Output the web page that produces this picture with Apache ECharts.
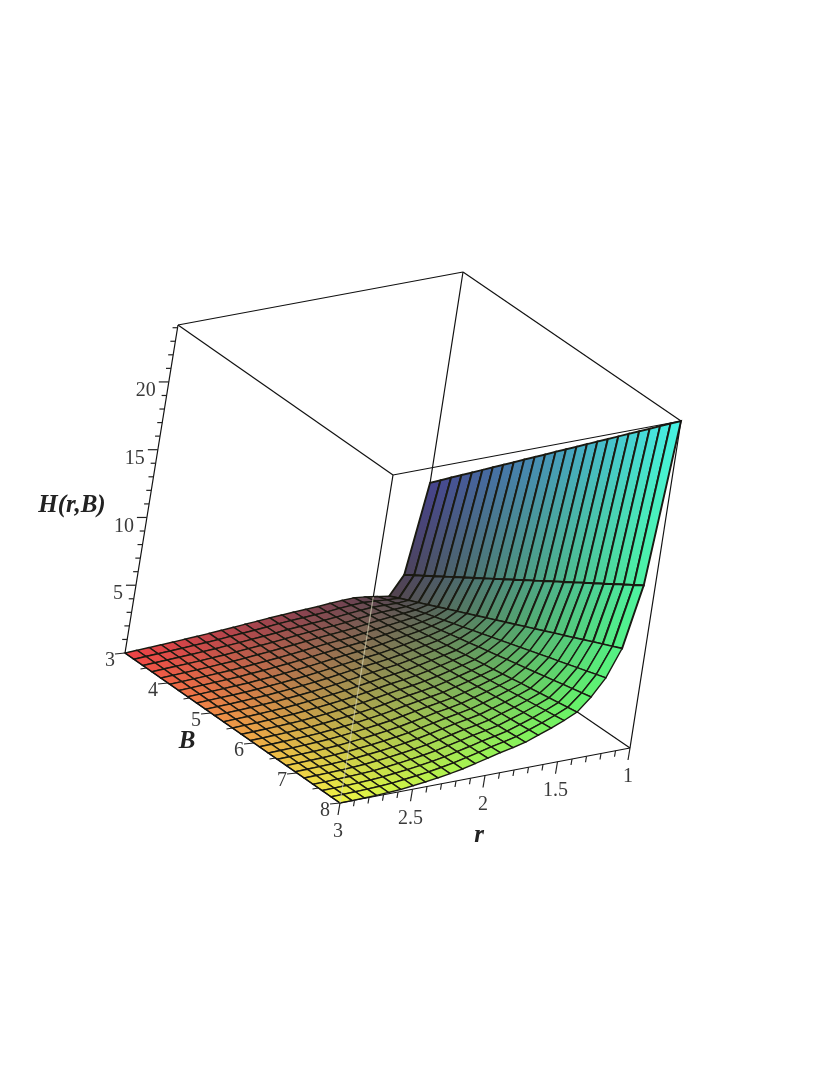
<!DOCTYPE html>
<html>
<head>
<meta charset="utf-8">
<style>
html, body { margin: 0; padding: 0; background: #fff; }
#main { width: 830px; height: 1075px; }
</style>
<script src="https://cdn.jsdelivr.net/npm/echarts@6/dist/echarts.min.js"></script>
</head>
<body>
<div id="main"></div>
<script>
var rValues = [1,1.083,1.167,1.25,1.333,1.417,1.5,1.583,1.667,1.75,1.833,1.917,2,2.083,2.167,2.25,2.333,2.417,2.5,2.583,2.667,2.75,2.833,2.917,3];
var bValues = [3,3.208,3.417,3.625,3.833,4.042,4.25,4.458,4.667,4.875,5.083,5.292,5.5,5.708,5.917,6.125,6.333,6.542,6.75,6.958,7.167,7.375,7.583,7.792,8];

// H, one row per r value, columns follow bValues
var hRows = [
    [8.6,9.25,9.9,10.55,11.2,11.85,12.5,13.15,13.8,14.45,15.1,15.75,16.4,17.05,17.7,18.35,19,19.65,20.3,20.95,21.6,22.25,22.9,23.55,24.2],
    [1.95,2.38,2.8,3.23,3.66,4.09,4.51,4.94,5.37,5.79,6.22,6.65,7.08,7.5,7.93,8.36,8.78,9.21,9.64,10.06,10.49,10.92,11.35,11.77,12.2],
    [.55,.85,1.15,1.44,1.74,2.04,2.34,2.64,2.93,3.23,3.53,3.83,4.13,4.42,4.72,5.02,5.32,5.62,5.91,6.21,6.51,6.81,7.11,7.4,7.7],
    [.68,.89,1.1,1.31,1.52,1.73,1.94,2.14,2.35,2.56,2.77,2.98,3.19,3.4,3.61,3.82,4.03,4.24,4.45,4.65,4.86,5.07,5.28,5.49,5.7],
    [.82,.97,1.12,1.27,1.43,1.58,1.73,1.88,2.03,2.18,2.33,2.48,2.64,2.79,2.94,3.09,3.24,3.39,3.54,3.69,3.84,4,4.15,4.3,4.45],
    [.92,1.03,1.14,1.24,1.35,1.46,1.57,1.67,1.78,1.89,2,2.1,2.21,2.32,2.43,2.53,2.64,2.75,2.86,2.96,3.07,3.18,3.29,3.39,3.5],
    [.9,.99,1.08,1.17,1.26,1.35,1.44,1.53,1.62,1.71,1.8,1.89,1.98,2.06,2.15,2.24,2.33,2.42,2.51,2.6,2.69,2.78,2.87,2.96,3.05],
    [.85,.93,1,1.08,1.15,1.23,1.3,1.38,1.45,1.53,1.6,1.68,1.75,1.83,1.9,1.98,2.05,2.13,2.2,2.28,2.35,2.43,2.5,2.58,2.65],
    [.78,.84,.91,.97,1.03,1.1,1.16,1.22,1.29,1.35,1.41,1.48,1.54,1.6,1.67,1.73,1.79,1.86,1.92,1.98,2.05,2.11,2.17,2.24,2.3],
    [.74,.79,.84,.89,.94,.99,1.04,1.09,1.14,1.19,1.24,1.29,1.35,1.4,1.45,1.5,1.55,1.6,1.65,1.7,1.75,1.8,1.85,1.9,1.95],
    [.7,.74,.79,.83,.87,.91,.96,1,1.04,1.08,1.13,1.17,1.21,1.25,1.3,1.34,1.38,1.42,1.47,1.51,1.55,1.59,1.64,1.68,1.72],
    [.65,.69,.72,.76,.8,.83,.87,.9,.94,.98,1.01,1.05,1.09,1.12,1.16,1.19,1.23,1.27,1.3,1.34,1.38,1.41,1.45,1.48,1.52],
    [.6,.63,.66,.69,.71,.74,.77,.8,.83,.86,.88,.91,.94,.97,1,1.03,1.05,1.08,1.11,1.14,1.17,1.2,1.22,1.25,1.28],
    [.53,.55,.57,.6,.62,.64,.66,.68,.7,.73,.75,.77,.79,.81,.83,.86,.88,.9,.92,.94,.96,.99,1.01,1.03,1.05],
    [.47,.48,.5,.51,.53,.54,.56,.57,.59,.6,.62,.63,.65,.66,.67,.69,.7,.72,.73,.75,.76,.78,.79,.81,.82],
    [.41,.42,.43,.44,.45,.46,.47,.48,.49,.5,.51,.52,.53,.54,.55,.56,.57,.58,.59,.6,.61,.62,.63,.64,.65],
    [.35,.36,.36,.37,.38,.38,.39,.39,.4,.41,.41,.42,.43,.43,.44,.44,.45,.46,.46,.47,.48,.48,.49,.49,.5],
    [.29,.29,.3,.3,.3,.31,.31,.31,.32,.32,.32,.33,.33,.33,.34,.34,.34,.35,.35,.35,.36,.36,.36,.37,.37],
    [.24,.24,.24,.24,.24,.24,.25,.25,.25,.25,.25,.25,.25,.25,.25,.25,.25,.25,.26,.26,.26,.26,.26,.26,.26],
    [.19,.19,.19,.19,.19,.18,.18,.18,.18,.18,.18,.18,.18,.17,.17,.17,.17,.17,.17,.17,.17,.16,.16,.16,.16],
    [.15,.15,.15,.14,.14,.14,.14,.14,.13,.13,.13,.13,.13,.12,.12,.12,.12,.11,.11,.11,.11,.11,.1,.1,.1],
    [.11,.11,.11,.1,.1,.1,.1,.1,.09,.09,.09,.09,.09,.08,.08,.08,.08,.07,.07,.07,.07,.07,.06,.06,.06],
    [.07,.07,.07,.07,.06,.06,.06,.06,.06,.05,.05,.05,.05,.05,.05,.05,.04,.04,.04,.04,.04,.04,.03,.03,.03],
    [.04,.04,.04,.04,.03,.03,.03,.03,.03,.03,.03,.03,.03,.02,.02,.02,.02,.02,.02,.02,.02,.01,.01,.01,.01],
    [0,0,0,0,0,0,0,0,0,0,0,0,0,0,0,0,0,0,0,0,0,0,0,0,0]
];

var rTicks = [3, 2.5, 2, 1.5, 1];
var rMinor = [2.9,2.8,2.7,2.6,2.4,2.3,2.2,2.1,1.9,1.8,1.7,1.6,1.4,1.3,1.2,1.1];
var bTicks = [3, 4, 5, 6, 7, 8];
var bMinor = [3.5, 4.5, 5.5, 6.5, 7.5];
var hTicks = [5, 10, 15, 20];
var hMinor = [1,2,3,4,6,7,8,9,11,12,13,14,16,17,18,19,21,22,23,24];
var hTop = 24.2;

// box corners on the page, [u][v][w] with u = r side, v = B side, w = H side
var corners = [
    [[[412, 599], [463, 272]], [[630, 748], [681, 421]]],
    [[[125, 653], [178, 325]], [[340, 803], [393, 475]]]
];

function project(r, b, h) {
    var u = (r - 1) / 2, v = (b - 3) / 5, w = h / hTop;
    var out = [];
    for (var k = 0; k < 2; k++) {
        var a = corners[0][0][0][k] * (1 - w) + corners[0][0][1][k] * w;
        var c = corners[0][1][0][k] * (1 - w) + corners[0][1][1][k] * w;
        var d = corners[1][0][0][k] * (1 - w) + corners[1][0][1][k] * w;
        var e = corners[1][1][0][k] * (1 - w) + corners[1][1][1][k] * w;
        out.push((a * (1 - v) + c * v) * (1 - u) + (d * (1 - v) + e * v) * u);
    }
    return out;
}

function cellColor(r, b, h) {
    var u = (r - 1) / 2, v = (b - 3) / 5, w = h / hTop;
    var red = Math.round(70 + 170 * u);
    var green = Math.round(65 + 180 * v);
    var blue = Math.round(70 + 160 * Math.pow(w, 0.8));
    return 'rgb(' + red + ',' + green + ',' + blue + ')';
}

var cells = [];
for (var i = 0; i < rValues.length - 1; i++) {
    for (var j = 0; j < bValues.length - 1; j++) {
        cells.push([i, j]);
    }
}

function renderCell(params, api) {
    var i = api.value(0), j = api.value(1);
    var quad = [[i, j], [i + 1, j], [i + 1, j + 1], [i, j + 1]];
    var points = quad.map(function (q) {
        return api.coord(project(rValues[q[0]], bValues[q[1]], hRows[q[0]][q[1]]));
    });
    var bMid = (bValues[j] + bValues[j + 1]) / 2;
    var hNear = (hRows[i][j] + hRows[i][j + 1]) / 2;
    var hFar = (hRows[i + 1][j] + hRows[i + 1][j + 1]) / 2;
    // colour runs along the cell, it matters on the tall first row
    var fill = {
        type: 'linear',
        global: true,
        x: (points[0][0] + points[3][0]) / 2,
        y: (points[0][1] + points[3][1]) / 2,
        x2: (points[1][0] + points[2][0]) / 2,
        y2: (points[1][1] + points[2][1]) / 2,
        colorStops: [
            { offset: 0, color: cellColor(rValues[i], bMid, hNear) },
            { offset: 1, color: cellColor(rValues[i + 1], bMid, hFar) }
        ]
    };
    return {
        type: 'polygon',
        shape: { points: points },
        style: { fill: fill, stroke: '#1a1a12', lineWidth: i < 2 ? 1.9 : 1.4 }
    };
}

// box edges, [r0, B0, H0, r1, B1, H1]
var backEdges = [
    [1, 3, 0, 1, 3, hTop],
    [1, 3, 0, 3, 3, 0],
    [1, 3, 0, 1, 8, 0]
];
var frontEdges = [
    [3, 3, 0, 3, 3, hTop],
    [1, 8, 0, 1, 8, hTop],
    [3, 3, 0, 3, 8, 0],
    [3, 8, 0, 1, 8, 0],
    [3, 3, hTop, 1, 3, hTop],
    [3, 3, hTop, 3, 8, hTop],
    [3, 8, hTop, 1, 8, hTop],
    [1, 3, hTop, 1, 8, hTop],
    [3, 8, 15.2, 3, 8, hTop]
];
var paleEdges = [[3, 8, 0, 3, 8, 15.2]];

function edgeRenderer(color, width) {
    return function (params, api) {
        var a = api.coord(project(api.value(0), api.value(1), api.value(2)));
        var b = api.coord(project(api.value(3), api.value(4), api.value(5)));
        return {
            type: 'line',
            shape: { x1: a[0], y1: a[1], x2: b[0], y2: b[1] },
            style: { stroke: color, lineWidth: width }
        };
    };
}

function edgeSeries(data, color, width, z) {
    return {
        type: 'custom',
        coordinateSystem: 'cartesian2d',
        silent: true,
        animation: false,
        z: z,
        encode: { x: 0, y: 1 },
        data: data,
        renderItem: edgeRenderer(color, width)
    };
}

// ticks along one axis: point on the axis plus a pixel offset for the tick end
function tickSeries(points, dx, dy) {
    return {
        type: 'custom',
        coordinateSystem: 'cartesian2d',
        silent: true,
        animation: false,
        z: 5,
        encode: { x: 0, y: 1 },
        data: points,
        renderItem: function (params, api) {
            var a = api.coord(project(api.value(0), api.value(1), api.value(2)));
            return {
                type: 'line',
                shape: { x1: a[0], y1: a[1], x2: a[0] + dx, y2: a[1] + dy },
                style: { stroke: '#222', lineWidth: 1.2 }
            };
        }
    };
}

function labelSeries(points, dx, dy, align) {
    return {
        type: 'custom',
        coordinateSystem: 'cartesian2d',
        silent: true,
        animation: false,
        z: 6,
        encode: { x: 0, y: 1 },
        data: points,
        renderItem: function (params, api) {
            var a = api.coord(project(api.value(0), api.value(1), api.value(2)));
            return {
                type: 'text',
                style: {
                    x: a[0] + dx,
                    y: a[1] + dy,
                    text: String(points[params.dataIndex][3]),
                    fill: '#3a3a3a',
                    fontFamily: 'Liberation Serif',
                    fontSize: 20,
                    textAlign: align,
                    textVerticalAlign: 'middle'
                }
            };
        }
    };
}

var rPts = rTicks.map(function (v) { return [v, 8, 0, v]; });
var rMinorPts = rMinor.map(function (v) { return [v, 8, 0, v]; });
var bPts = bTicks.map(function (v) { return [3, v, 0, v]; });
var bMinorPts = bMinor.map(function (v) { return [3, v, 0, v]; });
var hPts = hTicks.map(function (v) { return [3, 3, v, v]; });
var hMinorPts = hMinor.map(function (v) { return [3, 3, v, v]; });

function axisTitle(text, x, y) {
    return {
        type: 'text',
        x: x,
        y: y,
        z: 10,
        style: {
            text: text,
            fill: '#222',
            fontFamily: 'Liberation Serif',
            fontSize: 25,
            fontWeight: 'bold',
            fontStyle: 'italic',
            textAlign: 'center',
            textVerticalAlign: 'middle'
        }
    };
}

var myChart = echarts.init(document.getElementById('main'));
var option = {
    backgroundColor: '#fff',
    animation: false,
    grid: { left: 0, right: 0, top: 0, bottom: 0 },
    xAxis: { type: 'value', min: 0, max: 830, show: false },
    yAxis: { type: 'value', min: 0, max: 1075, inverse: true, show: false },
    graphic: [
        axisTitle('H(r,B)', 72, 506),
        axisTitle('B', 187, 742),
        axisTitle('r', 479, 836)
    ],
    series: [
        edgeSeries(backEdges, '#111', 1.2, 1),
        {
            type: 'custom',
            coordinateSystem: 'cartesian2d',
            silent: true,
            animation: false,
            z: 2,
            encode: { x: 0, y: 1 },
            data: cells,
            renderItem: renderCell
        },
        edgeSeries(frontEdges, '#111', 1.2, 3),
        edgeSeries(paleEdges, 'rgba(215,215,185,0.65)', 1.2, 3),
        tickSeries(rPts, -2, 12),
        tickSeries(rMinorPts, -1, 6),
        tickSeries(bPts, -10, 1),
        tickSeries(bMinorPts, -6, 1),
        tickSeries(hPts, -10, 0),
        tickSeries(hMinorPts, -5, 0),
        labelSeries(rPts, -2, 29, 'center'),
        labelSeries(bPts, -15, 8, 'center'),
        labelSeries(hPts, -13, 9, 'right')
    ]
};
myChart.setOption(option);
</script>
</body>
</html>
